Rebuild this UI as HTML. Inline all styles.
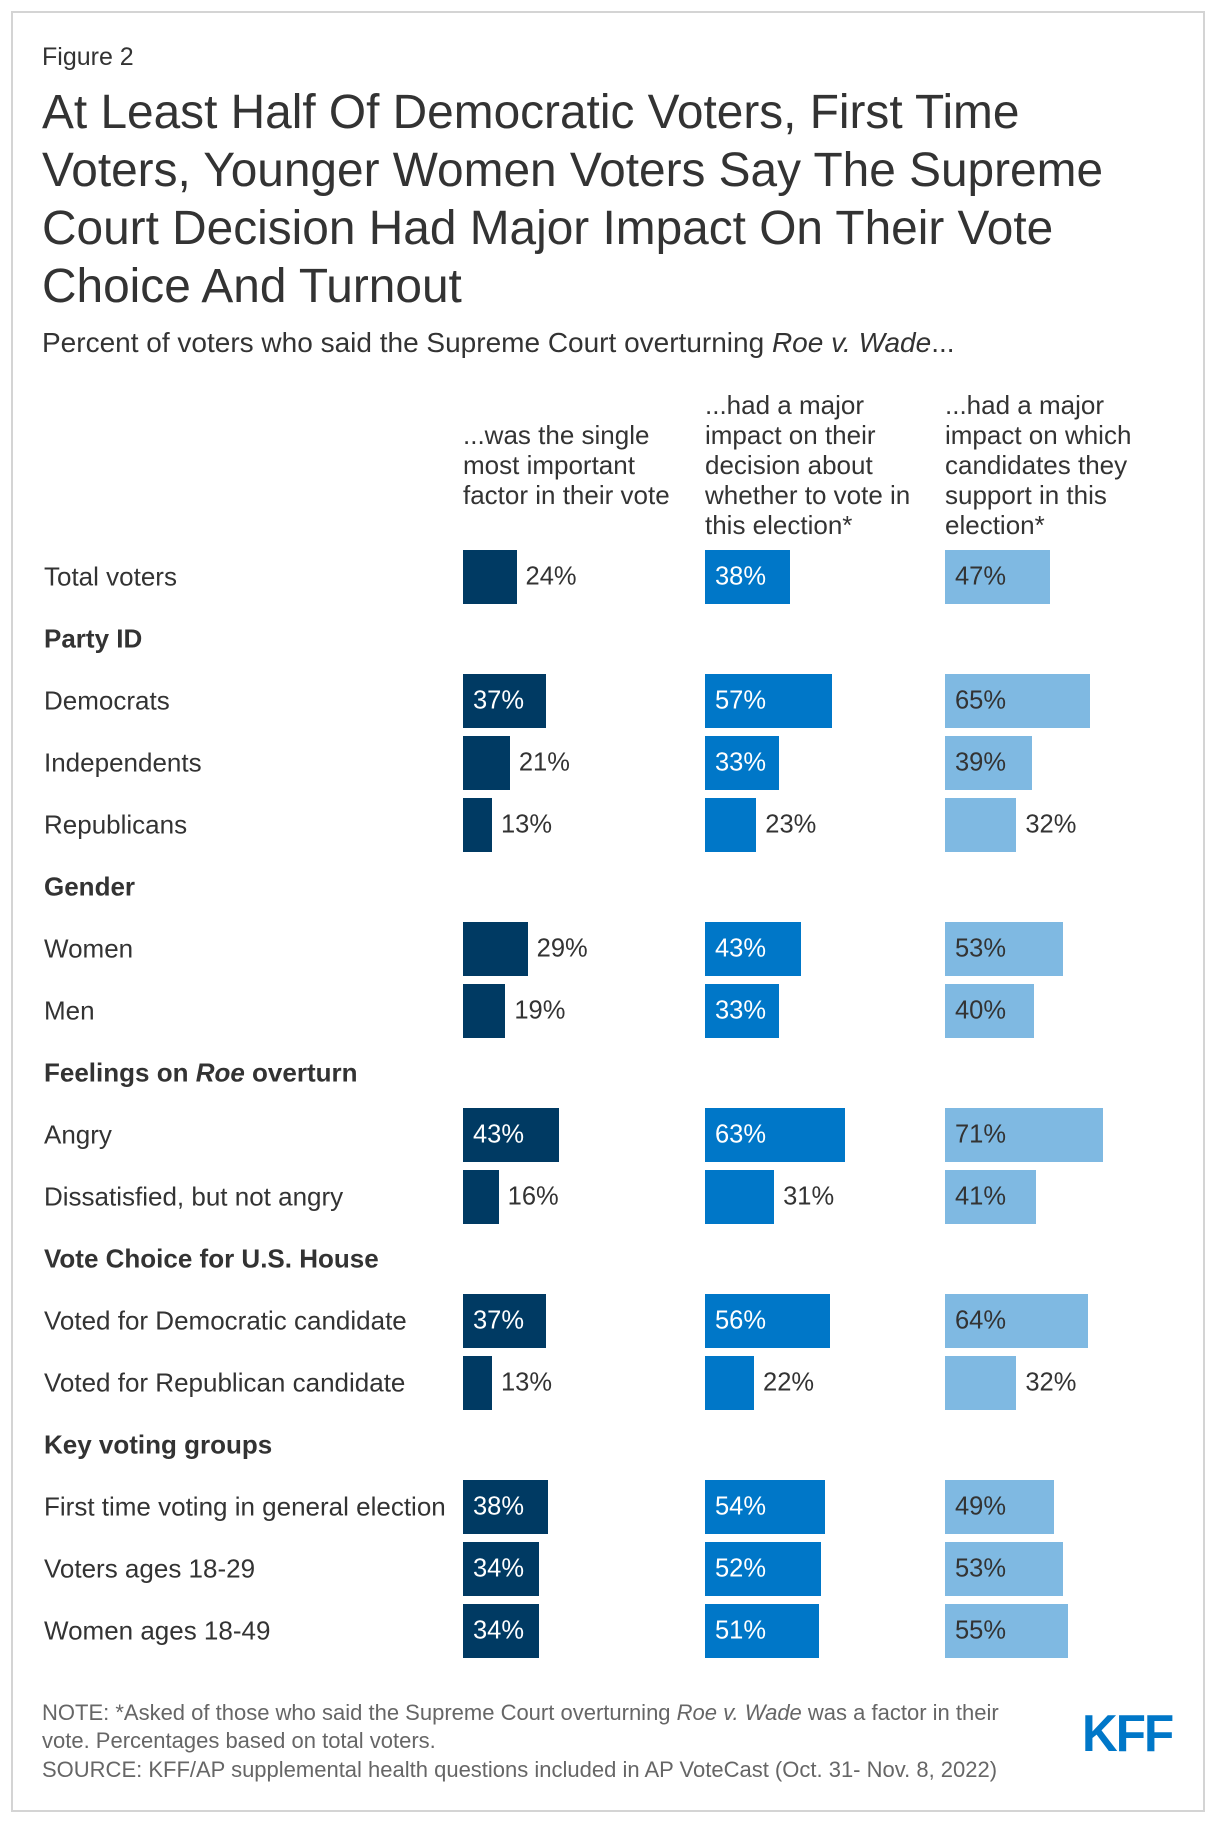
<!DOCTYPE html>
<html><head><meta charset="utf-8">
<style>
body{margin:0;background:#fff;font-family:"Liberation Sans",Arial,sans-serif;color:#333;}
#wrap{position:relative;width:1220px;height:1826px;overflow:hidden;}
#frame{position:absolute;left:11px;top:11px;width:1194px;height:1801px;border:2px solid #d4d4d4;box-sizing:border-box;}
.t{position:absolute;white-space:nowrap;}
.hdr{position:absolute;font-size:26px;line-height:30px;color:#333;white-space:nowrap;}
.lbl{position:absolute;left:44px;font-size:26px;transform:translateY(-50%);white-space:nowrap;}
.sec{font-weight:bold;}
.bar{position:absolute;}
.val{position:absolute;font-size:25.5px;transform:translateY(-50%);white-space:nowrap;}
.note{position:absolute;left:42px;font-size:22px;color:#666;white-space:nowrap;}
</style></head><body>
<div id="wrap">
<div id="frame"></div>
<div class="t" style="left:42px;top:43px;font-size:25px;">Figure 2</div>
<div class="t" style="left:42px;top:84px;font-size:47.8px;line-height:58px;">At Least Half Of Democratic Voters, First Time<br>Voters, Younger Women Voters Say The Supreme<br>Court Decision Had Major Impact On Their Vote<br>Choice And Turnout</div>
<div class="t" style="left:42px;top:327px;font-size:28px;">Percent of voters who said the Supreme Court overturning <i>Roe v. Wade</i>...</div>
<div class="hdr" style="left:463px;top:420px;">...was the single<br>most important<br>factor in their vote</div>
<div class="hdr" style="left:705px;top:390px;">...had a major<br>impact on their<br>decision about<br>whether to vote in<br>this election*</div>
<div class="hdr" style="left:945px;top:390px;">...had a major<br>impact on which<br>candidates they<br>support in this<br>election*</div>
<div id="rows"></div>
<div class="note" style="top:1700px;">NOTE: *Asked of those who said the Supreme Court overturning <i>Roe v. Wade</i> was a factor in their</div>
<div class="note" style="top:1728px;">vote. Percentages based on total voters.</div>
<div class="note" style="top:1757px;">SOURCE: KFF/AP supplemental health questions included in AP VoteCast (Oct. 31- Nov. 8, 2022)</div>
<div class="t" style="left:1082px;top:1704px;font-size:52px;font-weight:bold;color:#0077c8;letter-spacing:-2px;transform:scaleX(0.95);transform-origin:left;">KFF</div>
</div>
<script>
const categories=["Total voters","Party ID","Democrats","Independents","Republicans","Gender","Women","Men","Feelings on <i>Roe</i> overturn","Angry","Dissatisfied, but not angry","Vote Choice for U.S. House","Voted for Democratic candidate","Voted for Republican candidate","Key voting groups","First time voting in general election","Voters ages 18-29","Women ages 18-49"];
const isSection=[0,1,0,0,0,1,0,0,1,0,0,1,0,0,1,0,0,0];
const singleFactor=[24,null,37,21,13,null,29,19,null,43,16,null,37,13,null,38,34,34];
const turnoutImpact=[38,null,57,33,23,null,43,33,null,63,31,null,56,22,null,54,52,51];
const candidateImpact=[47,null,65,39,32,null,53,40,null,71,41,null,64,32,null,49,53,55];
const series=[singleFactor,turnoutImpact,candidateImpact];
const colX=[463,705,945];
const colors=["#003a63","#0077c8","#7fb9e2"];
const inTextColor=["#fff","#fff","#333"];
const rowY=i=>577+i*62;
const xScale=v=>v*2.23;
const rows=document.getElementById('rows');
categories.forEach((c,i)=>{
  const l=document.createElement('div');
  l.className='lbl'+(isSection[i]?' sec':'');
  l.style.top=rowY(i)+'px';
  l.innerHTML=c;
  
  
  rows.appendChild(l);
  series.forEach((s,k)=>{
    const v=s[i]; if(v==null) return;
    const b=document.createElement('div');
    b.className='bar';
    const w=xScale(v);
    b.style.cssText=`left:${colX[k]}px;top:${rowY(i)-27}px;width:${w}px;height:54px;background:${colors[k]};`;
    
    
    rows.appendChild(b);
    const t=document.createElement('div');
    t.className='val';
    const inside=v>=33;
    t.style.left=(inside?colX[k]+10:colX[k]+w+9)+'px';
    t.style.top=rowY(i)+'px';
    t.style.color=inside?inTextColor[k]:'#333';
    t.textContent=v+'%';
    
    
    rows.appendChild(t);
  });
});
</script>
</body></html>
